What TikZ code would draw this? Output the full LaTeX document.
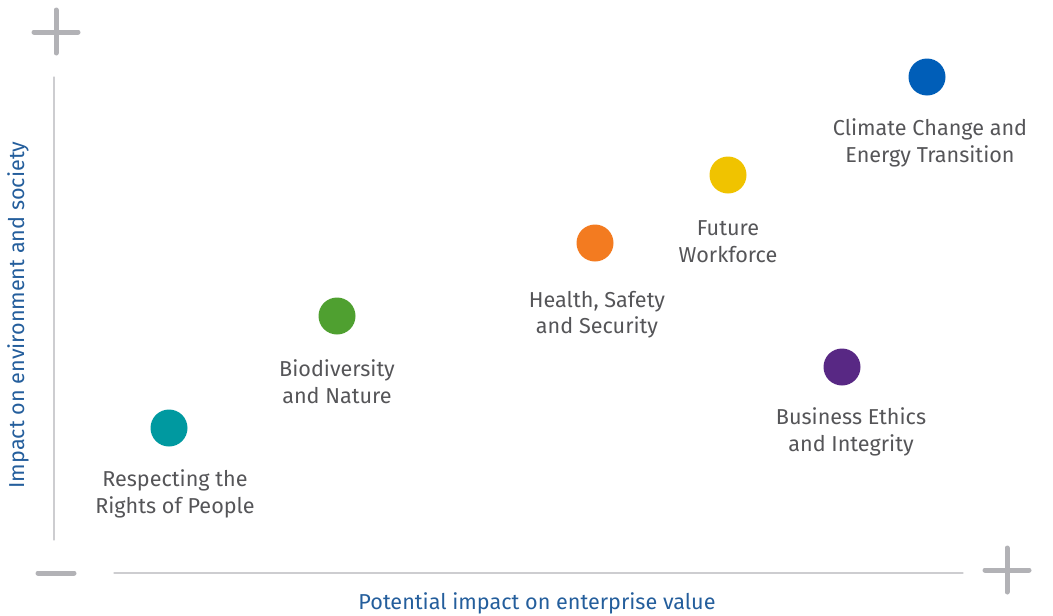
\documentclass[tikz,border=0pt]{standalone}
\usepackage{fontspec}
\setmainfont{Fira Sans}
\usetikzlibrary{positioning}

\definecolor{markgrey}{RGB}{178,178,182}
\definecolor{axisgrey}{RGB}{205,205,208}
\definecolor{txtgrey}{RGB}{85,85,88}
\definecolor{axisblue}{RGB}{36,94,156}
\definecolor{cblue}{RGB}{0,94,184}
\definecolor{cyellow}{RGB}{240,195,0}
\definecolor{corange}{RGB}{243,123,32}
\definecolor{cgreen}{RGB}{79,160,48}
\definecolor{cpurple}{RGB}{88,40,132}
\definecolor{cteal}{RGB}{0,153,160}

\begin{document}
\begin{tikzpicture}[x=1pt,y=-1pt,node distance=22pt,line cap=round]
%pixel grid of the original, y downwards

  \tikzstyle{topic}=[circle,minimum size=37pt,inner sep=0pt]
  \tikzstyle{lbl}=[align=center,inner sep=0pt,text=txtgrey,font=\fontsize{21.6}{26.5}\selectfont]
  \tikzstyle{sign}=[markgrey,line width=5pt]
  \useasboundingbox (0,0) rectangle (1053,616);

  % axes
  \coordinate (ytop) at (54,77);
  \coordinate (ybot) at (54,540);
  \coordinate (xleft) at (114,573);
  \coordinate (xright) at (963,573);
  \draw[axisgrey,line width=1.3pt] (ytop) -- (ybot);
  \draw[axisgrey,line width=1.3pt] (xleft) -- (xright);

  % plus / minus marks
  \draw[sign] (34,32) -- (78,32) (56,10) -- (56,53);
  \draw[sign] (38,573) -- (74,573);
  \draw[sign] (985,570) -- (1029,570) (1007,548) -- (1007,592);

  \node[rotate=90,text=axisblue,font=\fontsize{21.6}{26}\selectfont] (ylab) at (18,315) {Impact on environment and society};
  \node[text=axisblue,font=\fontsize{21.6}{26}\selectfont] (xlab) at (537,603) {Potential impact on enterprise value};

  % topics
  \node[topic,fill=cblue]   (climate) at (927,77)  {};
  \node[topic,fill=cyellow] (future)  at (728,175) {};
  \node[topic,fill=corange] (health)  at (595,243) {};
  \node[topic,fill=cgreen]  (bio)     at (337,316) {};
  \node[topic,fill=cpurple] (ethics)  at (842,367) {};
  \node[topic,fill=cteal]   (rights)  at (169,428) {};

  \node[lbl] (climatetxt) [below=of climate,xshift=3pt,yshift=-1pt] {Climate Change and\\Energy Transition};
  \node[lbl] (futuretxt)  [below=of future,yshift=-5pt]             {Future\\Workforce};
  \node[lbl] (healthtxt)  [below=of health,xshift=2pt,yshift=-7pt]  {Health, Safety\\and Security};
  \node[lbl] (biotxt)     [below=of bio,yshift=-3pt]                {Biodiversity\\and Nature};
  \node[lbl] (ethicstxt)  [below=of ethics,xshift=9pt]              {Business Ethics\\and Integrity};
  \node[lbl] (rightstxt)  [below=of rights,xshift=6pt,yshift=-1pt]  {Respecting the\\Rights of People};

\end{tikzpicture}
\end{document}
